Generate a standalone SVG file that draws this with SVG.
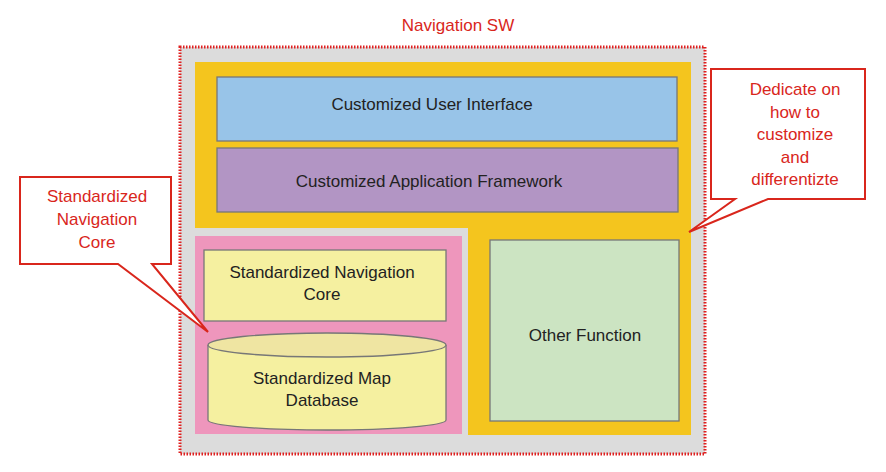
<svg xmlns="http://www.w3.org/2000/svg" width="886" height="472" viewBox="0 0 886 472">
<style>
text{font-family:"Liberation Sans",Arial,sans-serif;font-size:17px;text-anchor:middle;fill:#222}
.r{fill:#d9261c}
.box{stroke:#777;stroke-width:1.3}
.call{fill:#fff;stroke:#d9261c;stroke-width:2}
</style>
<rect width="886" height="472" fill="#fff"/>
<text class="r" x="458" y="31">Navigation SW</text>
<g id="outer">
<rect x="180" y="47" width="525" height="407" fill="#dcdcdc" stroke="#e02020" stroke-width="3" stroke-dasharray="1.5 1.5"/>
<path d="M195 62H691V435H468V228H195Z" fill="#f4c51e"/>
<rect x="195" y="236" width="267" height="198" fill="#ee96bc"/>
</g>
<g id="ui"><rect class="box" x="217" y="77" width="460" height="64" fill="#98c4e8"/><text x="432" y="110">Customized User Interface</text></g>
<g id="af"><rect class="box" x="217" y="148" width="461" height="64" fill="#b295c4"/><text x="429" y="187">Customized Application Framework</text></g>
<g id="snc"><rect class="box" x="204" y="250" width="242" height="71" fill="#f5f0a0"/><text x="322" y="278">Standardized Navigation</text><text x="322" y="300">Core</text></g>
<g id="db">
<path class="box" d="M208 345V420A119 10 0 0 0 446 420V345" fill="#f5f0a0"/>
<ellipse class="box" cx="327" cy="345" rx="119" ry="12" fill="#efe5a2"/>
<text x="322" y="384">Standardized Map</text><text x="322" y="406">Database</text>
</g>
<g id="other"><rect class="box" x="490" y="240" width="189" height="181" fill="#cce4c2"/><text x="585" y="341">Other Function</text></g>
<g id="callouts">
<path class="call" d="M20 177H171V264H152L208 332L118 264H20Z"/>
<text class="r" x="97" y="202">Standardized</text><text class="r" x="97" y="225">Navigation</text><text class="r" x="97" y="248">Core</text>
<path class="call" d="M711 69H865V199H768L689 232L735 199H711Z"/>
<text class="r" x="795" y="95">Dedicate on</text><text class="r" x="795" y="118">how to</text><text class="r" x="795" y="140">customize</text><text class="r" x="795" y="163">and</text><text class="r" x="795" y="185">differentizte</text>
</g>
</svg>
